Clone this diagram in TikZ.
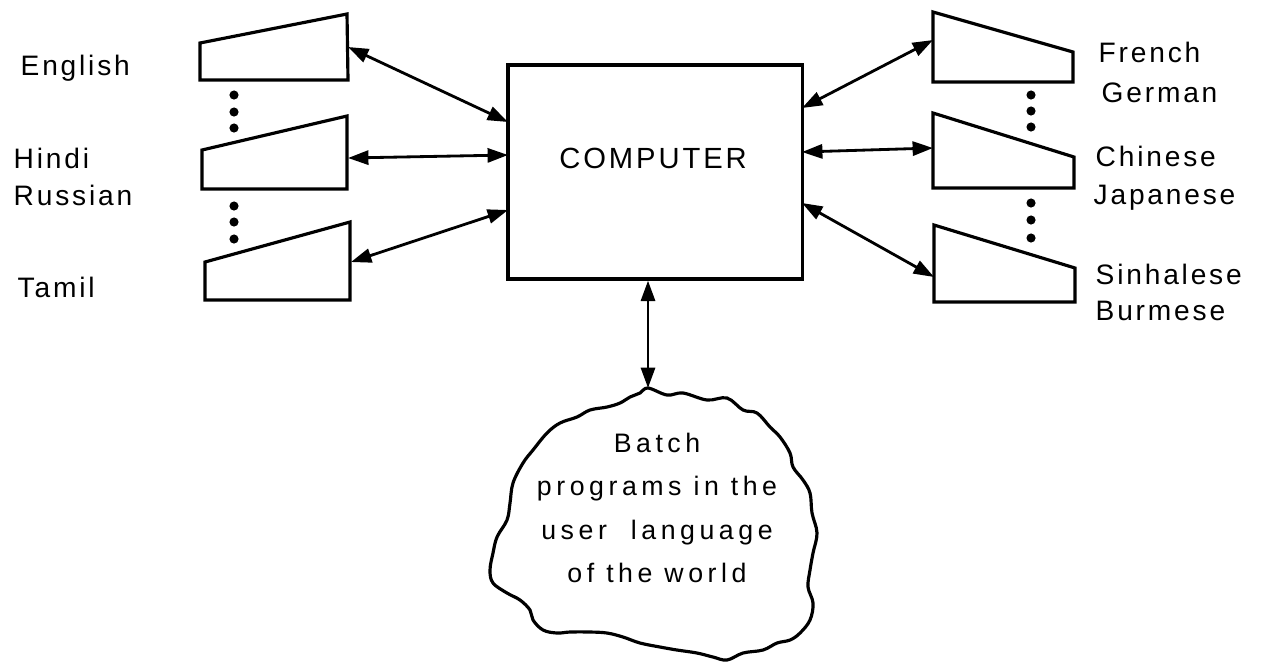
\documentclass[tikz,border=0pt]{standalone}
\usepackage{fontspec}
\setmainfont[LetterSpace=10]{Liberation Sans}
\newfontfamily\cloudfont[LetterSpace=17]{Liberation Sans}
\usetikzlibrary{arrows.meta}

\tikzset{
  term/.style={line width=0.9pt, line join=miter},
  link/.style={{Triangle[length=5.8pt,width=4pt]}-{Triangle[length=5.8pt,width=4pt]}, line width=0.8pt},
  lang/.style={anchor=base west, inner sep=0pt, font=\fontsize{8}{10}\selectfont},
}

\begin{document}
\begin{tikzpicture}[x=0.01cm,y=-0.01cm]
\useasboundingbox (0,0) rectangle (1274,663);
% the computer
\node[draw, line width=0.9pt, minimum width=2.94cm, minimum height=2.14cm, inner sep=0pt] (comp) at (655,172) {};
\node[inner sep=0pt, font=\fontsize{8.3}{10}\selectfont] (complabel) at (653,158) {COMPUTER};

% left terminals
\draw[term] (200,43) -- (347,14) -- (348,80) -- (200,80) -- cycle;
\draw[term] (202,150) -- (347,116) -- (347,189) -- (202,189) -- cycle;
\draw[term] (205,262) -- (350,222) -- (350,300) -- (205,300) -- cycle;
\coordinate (t1) at (348,47);
\coordinate (t2) at (348,158);
\coordinate (t3) at (351,262);
\coordinate (a1) at (508,122);
\coordinate (a2) at (508,155);
\coordinate (a3) at (508,210);
\draw[link] (t1) -- (a1);
\draw[link] (t2) -- (a2);
\draw[link] (t3) -- (a3);
\foreach \y in {95,112,128,206,222,239}
  \fill (234,\y) circle (1.3pt);

% right terminals
\draw[term] (933,12) -- (1073,52) -- (1073,82) -- (933,82) -- cycle;
\draw[term] (933,113) -- (1074,157) -- (1074,188) -- (933,188) -- cycle;
\draw[term] (934,225) -- (1075,268) -- (1075,302) -- (934,302) -- cycle;
\coordinate (t4) at (933,40);
\coordinate (t5) at (933,148);
\coordinate (t6) at (934,277);
\coordinate (b4) at (802,108);
\coordinate (b5) at (802,152);
\coordinate (b6) at (802,203);
\draw[link] (b4) -- (t4);
\draw[link] (b5) -- (t5);
\draw[link] (b6) -- (t6);
\foreach \y in {95,111,127,203,220,238}
  \fill (1031,\y) circle (1.3pt);

% languages
\node[lang] (english) at (20,75) {English};
\node[lang] (hindi) at (13,168) {Hindi};
\node[lang] (russian) at (13,205) {Russian};
\node[lang] (tamil) at (17,297) {Tamil};
\node[lang] (french) at (1098,62) {French};
\node[lang] (german) at (1101,102) {German};
\node[lang] (chinese) at (1095,166) {Chinese};
\node[lang] (japanese) at (1093,204) {Japanese};
\node[lang] (sinhalese) at (1095,284) {Sinhalese};
\node[lang] (burmese) at (1095,320) {Burmese};

% batch cloud
\draw[line width=0.9pt] plot[smooth cycle, tension=0.6] coordinates {
  (648,388) (667,395) (683,393) (707,400) (727,398) (743,410) (757,413)
  (770,427) (780,437) (790,453) (793,467) (803,480) (810,493) (812,513)
  (817,533) (813,553) (810,570) (808,587) (813,603) (810,620) (800,633)
  (790,640) (777,643) (763,650) (743,653) (727,660) (713,657) (697,653)
  (677,650) (660,647) (640,643) (623,637) (607,633) (590,632) (570,632)
  (557,633) (543,630) (533,620) (530,610) (520,600) (507,593) (493,583)
  (490,570) (493,553) (497,537) (507,520) (510,503) (513,483) (523,463)
  (533,450) (547,433) (560,423) (577,417) (590,410) (607,407) (620,403)
  (630,397) (640,393)};
\coordinate (cloudtop) at (648,388);
\draw[link] (comp.south -| cloudtop) -- (cloudtop);
\node[align=center, inner sep=0pt, font=\cloudfont\fontsize{7.6}{12.3}\selectfont] (batch) at (657,508)
  {Batch\\programs in the\\user \ language\\of the world};
\end{tikzpicture}
\end{document}
